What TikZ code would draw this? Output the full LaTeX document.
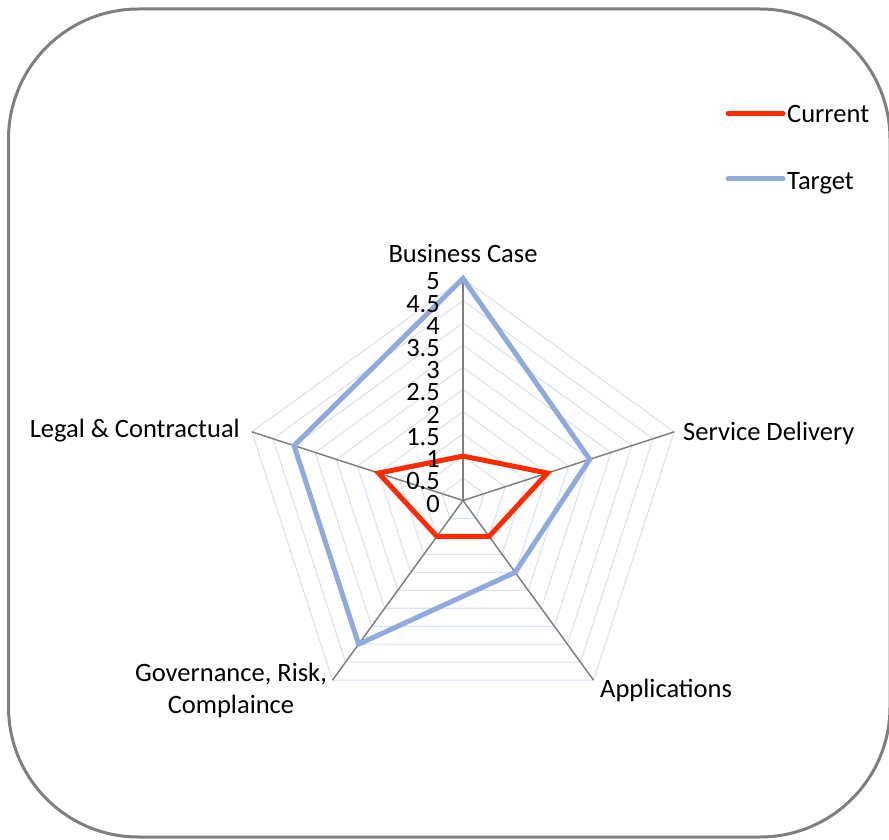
\documentclass[tikz,border=0pt]{standalone}
\usepackage{fontspec}
\setmainfont{Carlito}
\definecolor{curred}{HTML}{FF2A00}
\definecolor{tgtblue}{HTML}{8FAADC}
\definecolor{gridc}{HTML}{D9E2F3}
\definecolor{spokec}{HTML}{808080}
\definecolor{framec}{HTML}{7F7F7F}
\begin{document}
\begin{tikzpicture}[x=1pt,y=1pt,
  lbl/.style={inner sep=0pt,font=\fontsize{26.5}{32}\selectfont},
  tick/.style={lbl,anchor=east},
  gridline/.style={draw=gridc,line width=1.1pt},
  spoke/.style={draw=spokec,line width=1.5pt},
  curline/.style={draw=curred,line width=5pt,line join=miter},
  tgtline/.style={draw=tgtblue,line width=5pt,line join=miter},
  legline/.style={line width=5pt,line cap=round},
  frame/.style={draw=framec,line width=3pt,rounded corners=130pt}]
\useasboundingbox (0,0) rectangle (889,839);
\draw[frame] (8.5,830) rectangle (890,2);
\begin{scope}[shift={(463,338.5)}]
  \coordinate (O) at (0,0);
  \foreach \k in {1,...,10}{
    \draw[gridline] (90:{\k*22.2}) -- (18:{\k*22.2}) -- (-54:{\k*22.2}) -- (-126:{\k*22.2}) -- (162:{\k*22.2}) -- cycle;
  }
  \coordinate (aBC) at (90:222);
  \coordinate (aSD) at (18:222);
  \coordinate (aAP) at (-54:222);
  \coordinate (aGR) at (-126:222);
  \coordinate (aLC) at (162:222);
  \foreach \e in {aBC,aSD,aAP,aGR,aLC}{\draw[spoke] (O) -- (\e);}
  \draw[curline] (90:44.4) -- (18:88.8) -- (-54:44.4) -- (-126:44.4) -- (162:88.8) -- cycle;
  \draw[tgtline] (90:222) -- (18:133.2) -- (-54:88.8) -- (-126:177.6) -- (162:177.6) -- cycle;
\end{scope}
\foreach \v [count=\i from 0] in {0,0.5,1,1.5,2,2.5,3,3.5,4,4.5,5}{
  \node[tick] (t\i) at (440,{338.5+\i*22.2-3}) {\v};
}
\node[lbl,anchor=base] (lBC) at (463,576) {Business Case};
\node[lbl,anchor=base west] (lSD) at (683,398) {Service Delivery};
\node[lbl,anchor=base west] (lAP) at (600,142) {Applications};
\node[lbl,anchor=base east] (lLC) at (240,401) {Legal \& Contractual};
\node[lbl,align=center,anchor=north] (lGR) at (231,176) {Governance, Risk,\\Complaince};
\coordinate (c1) at (728,725.5);
\coordinate (c2) at (783,725.5);
\draw[legline,draw=curred] (c1) -- (c2);
\node[lbl,anchor=base west] (lCur) at (787,716) {Current};
\coordinate (b1) at (728,660);
\coordinate (b2) at (783,660);
\draw[legline,draw=tgtblue] (b1) -- (b2);
\node[lbl,anchor=base west] (lTgt) at (787,649) {Target};
\end{tikzpicture}
\end{document}
